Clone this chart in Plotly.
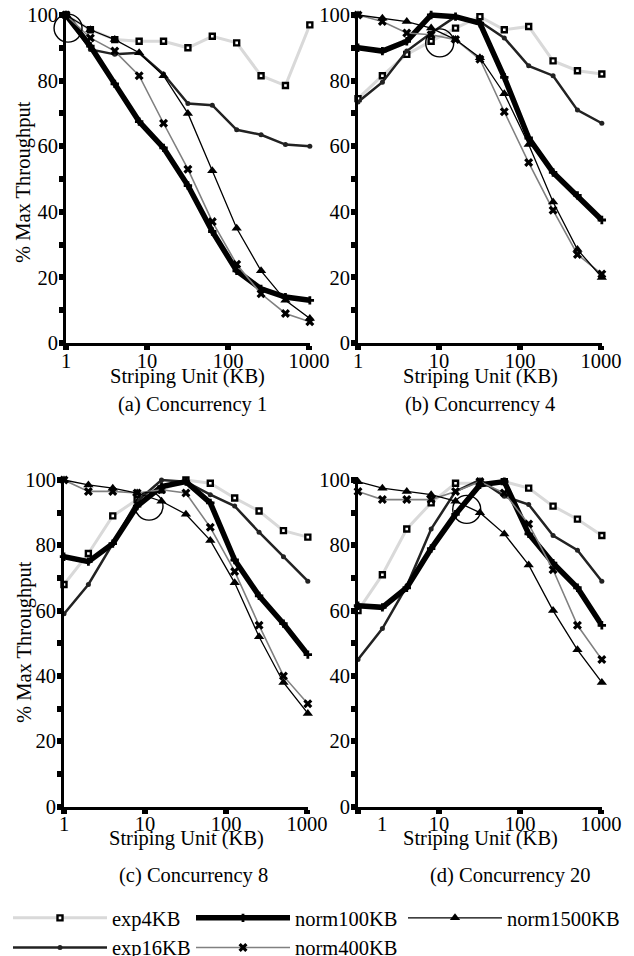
import plotly.graph_objects as go
import math

# ---------------- data ----------------
striping_kb = [1, 2, 4, 8, 16, 32, 64, 128, 256, 512, 1024]
x_tick_vals = [1, 10, 100, 1000]
x_tick_text = ["1", "10", "100", "1000"]
y_tick_vals = [0, 20, 40, 60, 80, 100]
y_minor_vals = [10, 30, 50, 70, 90]

# (a) Concurrency 1
c1_exp4 = [100, 95.5, 92.5, 92, 92, 90, 93.5, 91.5, 81.5, 78.5, 97]
c1_exp16 = [100, 89.5, 88, 88.5, 82, 73, 72.5, 65, 63.5, 60.5, 60]
c1_norm100 = [100, 90.5, 79, 67.5, 59.5, 48, 34, 22, 16.5, 14, 13]
c1_norm400 = [100, 93, 89, 81.5, 67, 53, 37, 24, 15, 9, 6.5]
c1_norm1500 = [100, 95.5, 92.5, 88.5, 81.5, 70, 52.5, 35, 22, 13, 7.5]

# (b) Concurrency 4
c4_exp4 = [74.5, 81.5, 88, 92, 96, 99.5, 95.5, 96.5, 86, 83, 82]
c4_exp16 = [73.5, 79.5, 89, 94.5, 99.5, 98, 93, 84.5, 81.5, 71, 67]
c4_norm100 = [90, 89, 92, 100, 99.5, 97.5, 81, 62.5, 52, 45, 37.5]
c4_norm400 = [100, 98, 94.5, 94, 92.5, 86.5, 70.5, 55, 40.5, 27, 21]
c4_norm1500 = [100, 99, 98, 96, 92.5, 87, 76, 60.5, 43, 28.5, 20]

# (c) Concurrency 8
c8_exp4 = [68, 77.5, 89, 94, 97, 100, 99, 94.5, 90.5, 84.5, 82.5]
c8_exp16 = [59, 68, 80.5, 93.5, 100, 99.5, 95.5, 92, 84, 76.5, 69]
c8_norm100 = [76.5, 75, 80.5, 92, 98, 99.5, 93, 75.5, 64.5, 56, 46.5]
c8_norm400 = [100, 96.5, 96.5, 96, 97, 96, 85.5, 72, 55.5, 40, 31.5]
c8_norm1500 = [100, 98.5, 97.5, 96, 93.5, 89.5, 81.5, 68.5, 52, 38, 28.5]

# (d) Concurrency 20
c20_exp4 = [60, 71, 85, 93, 99, 99, 99.5, 97.5, 92, 88, 83]
c20_exp16 = [45, 54.5, 67.5, 85, 96.5, 100, 95, 92.5, 83, 78.5, 69]
c20_norm100 = [61.5, 61, 67, 79, 89.5, 98.5, 99.5, 83.5, 74.5, 67, 55.5]
c20_norm400 = [96.5, 94, 94, 94, 96.5, 99.5, 96, 86.5, 72.5, 55.5, 45]
c20_norm1500 = [99.5, 97.5, 96.5, 95.5, 93.5, 90, 83.5, 74, 60, 48, 38]

# optimum circles (x in KB, y in %)
opt_x = [1.06, 10.2, 11.2, 22]
opt_y = [96, 91.5, 92, 91]

panel_captions = ["(a) Concurrency 1", "(b) Concurrency 4", "(c) Concurrency 8", "(d) Concurrency 20"]
series_names = ["exp4KB", "exp16KB", "norm100KB", "norm400KB", "norm1500KB"]

panels = [
    [c1_exp4, c1_exp16, c1_norm100, c1_norm400, c1_norm1500],
    [c4_exp4, c4_exp16, c4_norm100, c4_norm400, c4_norm1500],
    [c8_exp4, c8_exp16, c8_norm100, c8_norm400, c8_norm1500],
    [c20_exp4, c20_exp16, c20_norm100, c20_norm400, c20_norm1500],
]

# ---------------- styles ----------------
FONT = "Liberation Serif, Times New Roman, serif"
FS = 20.5
W, H = 634, 956

styles = {
    "exp4KB": dict(line=dict(color="#d9d9d9", width=3),
                   marker=dict(symbol="square", size=5, color="white", line=dict(color="black", width=2.4)),
                   legend="legend"),
    "exp16KB": dict(line=dict(color="#222222", width=2.5),
                    marker=dict(symbol="circle", size=5, color="#222222"),
                    legend="legend"),
    "norm100KB": dict(line=dict(color="black", width=5.5),
                      marker=dict(symbol="cross", size=7, color="black"),
                      legend="legend2"),
    "norm400KB": dict(line=dict(color="#808080", width=1.6),
                      marker=dict(symbol="x", size=8, color="black"),
                      legend="legend2"),
    "norm1500KB": dict(line=dict(color="black", width=1.3),
                       marker=dict(symbol="triangle-up", size=9, color="black"),
                       legend="legend3"),
}

# panel geometry (pixels)
decade_px = 81.0
x_span = math.log10(1024) * decade_px
panel_left = [66, 358, 64, 358]
panel_y0 = [343, 343, 806.5, 806.5]
panel_ppu = [3.28, 3.28, 3.265, 3.265]
y_top_val = 101

fig = go.Figure()
layout_axes = {}

for i, series in enumerate(panels):
    xa = "x" if i == 0 else f"x{i+1}"
    ya = "y" if i == 0 else f"y{i+1}"
    for name, vals in zip(series_names, series):
        st = styles[name]
        fig.add_trace(go.Scatter(
            x=striping_kb, y=vals, mode="lines+markers", name=name,
            line=st["line"], marker=st["marker"],
            xaxis=xa, yaxis=ya, showlegend=(i == 0), legend=st["legend"],
            cliponaxis=False,
        ))
    fig.add_trace(go.Scatter(
        x=[opt_x[i]], y=[opt_y[i]], mode="markers", showlegend=False,
        marker=dict(symbol="circle-open", size=28, color="black", line=dict(width=1.4, color="black")),
        xaxis=xa, yaxis=ya, cliponaxis=False, hoverinfo="skip",
    ))

    x0 = panel_left[i]
    x1 = x0 + x_span
    yb = panel_y0[i]
    yt = yb - y_top_val * panel_ppu[i]
    xkey = "xaxis" if i == 0 else f"xaxis{i+1}"
    ykey = "yaxis" if i == 0 else f"yaxis{i+1}"

    ttext = ["", "10", "100", "1000"] if i == 3 else x_tick_text

    layout_axes[xkey] = dict(
        type="log", domain=[x0 / W, x1 / W], range=[0, math.log10(1024)],
        anchor=ya, showline=True, linewidth=3, linecolor="black",
        showgrid=False, zeroline=False, automargin=False,
        tickmode="array", tickvals=x_tick_vals, ticktext=ttext,
        ticks="outside", ticklen=4, tickwidth=6, tickcolor="black",
        ticklabelstandoff=-7,
        tickfont=dict(family=FONT, size=FS, color="black"),
    )
    layout_axes[ykey] = dict(
        domain=[1 - yb / H, 1 - yt / H], range=[0, y_top_val],
        anchor=xa, showline=True, linewidth=3, linecolor="black",
        showgrid=False, zeroline=False, automargin=False,
        tickmode="array", tickvals=y_tick_vals,
        ticks="outside", ticklen=4, tickwidth=6, tickcolor="black",
        ticklabelstandoff=-3,
        minor=dict(tickmode="array", tickvals=y_minor_vals, ticks="outside",
                   ticklen=4, tickwidth=6, tickcolor="black", showgrid=False),
        tickfont=dict(family=FONT, size=FS, color="black"),
    )

annotations = []
title_x = [187, 481, 186, 480]
title_y = [376, 376, 838, 838]
cap_x = [192, 480, 193, 510]
cap_y = [405, 405, 875, 875]
for i in range(4):
    annotations.append(dict(text="Striping Unit (KB)", x=title_x[i] / W, y=1 - title_y[i] / H,
                            xref="paper", yref="paper", showarrow=False,
                            font=dict(family=FONT, size=FS, color="black"),
                            xanchor="center", yanchor="middle"))
    annotations.append(dict(text=panel_captions[i], x=cap_x[i] / W, y=1 - cap_y[i] / H,
                            xref="paper", yref="paper", showarrow=False,
                            font=dict(family=FONT, size=FS, color="black"),
                            xanchor="center", yanchor="middle"))
for yc in [182, 642]:
    annotations.append(dict(text="% Max Throughput", x=24 / W, y=1 - yc / H,
                            xref="paper", yref="paper", showarrow=False, textangle=-90,
                            font=dict(family=FONT, size=FS, color="black"),
                            xanchor="center", yanchor="middle"))
# displaced "1" tick label on panel (d)
annotations.append(dict(text="1", x=math.log10(2), y=0, xref="x4", yref="y4",
                        showarrow=False, yshift=-17, xanchor="center", yanchor="middle",
                        font=dict(family=FONT, size=FS, color="black")))

leg_common = dict(orientation="v", yanchor="top", xanchor="left",
                  font=dict(family=FONT, size=FS, color="black"),
                  itemwidth=94, bgcolor="rgba(0,0,0,0)", tracegroupgap=0,
                  y=1 - 898 / H)

fig.update_layout(
    width=W, height=H, margin=dict(l=0, r=0, t=0, b=0, autoexpand=False),
    paper_bgcolor="white", plot_bgcolor="white",
    font=dict(family=FONT, size=FS, color="black"),
    annotations=annotations,
    legend=dict(x=8 / W, **leg_common),
    legend2=dict(x=191 / W, **leg_common),
    legend3=dict(x=403 / W, **leg_common),
    **layout_axes,
)

fig.write_html("out.html", config={"displayModeBar": False},
               post_script="document.body.style.margin='0px';")
